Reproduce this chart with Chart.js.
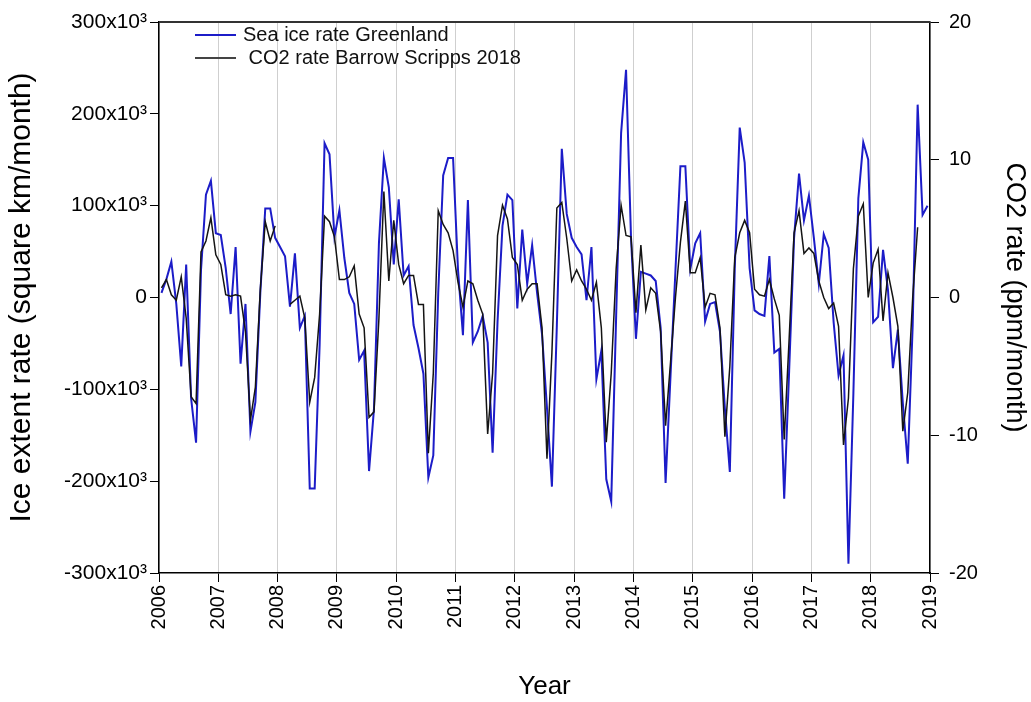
<!DOCTYPE html>
<html>
<head>
<meta charset="utf-8">
<script src="https://cdn.jsdelivr.net/npm/chart.js@4.4.1/dist/chart.umd.min.js"></script>
<style>
  html, body { margin: 0; padding: 0; background: #fff; }
  #wrap { width: 1031px; height: 702px; }
</style>
</head>
<body>
<div id="wrap"><canvas id="chart" width="1031" height="702"></canvas></div>
<script>
// monthly values, Jan 2006 .. Dec 2018 (one row per year)
const FIRST_YEAR = 2006;

// sea ice extent rate Greenland, thousand km2 / month
const seaIceRate = [
  5, 20, 39, -7, -75, 36, -110, -158, 30, 112, 127, 70,        // 2006
  68, 32, -18, 55, -72, -7, -146, -114, 5, 97, 97, 65,         // 2007
  55, 45, -10, 48, -33, -20, -208, -208, -52, 168, 156, 66,    // 2008
  95, 43, 5, -7, -68, -58, -189, -121, 59, 152, 120, 36,       // 2009
  107, 24, 34, -30, -55, -83, -196, -172, 5, 133, 152, 152,    // 2010
  30, -41, 106, -49, -37, -20, -49, -169, -26, 78, 112, 106,   // 2011
  -12, 74, 15, 57, 5, -40, -120, -206, -30, 162, 91, 65,       // 2012
  55, 47, -3, 55, -89, -58, -198, -222, -20, 179, 248, 66,     // 2013
  -45, 28, 26, 24, 18, -33, -202, -85, 30, 143, 143, 31,       // 2014
  59, 70, -26, -7, -5, -37, -121, -190, 32, 185, 147, 32,      // 2015
  -14, -18, -20, 45, -60, -56, -219, -80, 65, 135, 84, 111,    // 2016
  65, 15, 69, 54, -27, -85, -63, -290, -104, 108, 169, 150,    // 2017
  -27, -21, 52, 8, -77, -35, -115, -181, -30, 210, 90, 100     // 2018
];

// CO2 rate Barrow (Scripps 2018), ppm / month, null = no data
const co2Rate = [
  0.7, 1.3, 0.2, -0.2, 1.5, -1.5, -7.2, -7.7, 3.3, 4.1, 5.8, 3.1,      // 2006
  2.4, 0.2, 0.1, 0.2, 0.1, -2.5, -8.9, -6.5, 0.6, 5.5, 4.1, 5.2,       // 2007
  null, null, -0.5, -0.2, 0.1, -1.5, -7.6, -5.8, -1.2, 5.9, 5.5, 4.4,  // 2008
  1.3, 1.3, 1.5, 2.3, -1.2, -2.2, -8.7, -8.3, -1.5, 7.7, 1.2, 5.6,     // 2009
  2.4, 1.0, 1.6, 1.6, -0.5, -0.5, -11.3, -5.5, 6.3, 5.3, 4.7, 3.4,     // 2010
  1.1, -0.7, 1.2, 1.0, -0.2, -1.2, -9.9, -5.5, 4.5, 6.7, 5.7, 2.9,     // 2011
  2.4, -0.2, 0.6, 1.0, 1.0, -2.2, -11.7, -4.0, 6.5, 6.9, 4.3, 1.2,     // 2012
  2.0, 1.2, 0.6, -0.2, 1.1, -2.2, -10.5, -5.5, 2.1, 6.7, 4.5, 4.4,     // 2013
  -1.1, 3.8, -0.9, 0.7, 0.3, -2.5, -9.3, -4.7, 0.0, 4.0, 7.0, 1.8,     // 2014
  1.8, 2.9, -0.7, 0.3, 0.2, -2.2, -10.1, -5.0, 2.9, 4.7, 5.6, 4.7,     // 2015
  0.6, 0.2, 0.1, 1.3, -0.1, -1.3, -10.3, -3.0, 4.7, 6.3, 3.2, 3.6,     // 2016
  3.2, 1.2, 0.0, -0.8, -0.4, -2.1, -10.7, -7.3, 2.1, 5.9, 6.8, 0.0,    // 2017
  2.5, 3.5, -1.7, 1.8, 0.0, -2.1, -9.7, -6.9, 0.0, 5.1, null, null     // 2018
];

const yearTicks = [2006, 2007, 2008, 2009, 2010, 2011, 2012, 2013, 2014, 2015, 2016, 2017, 2018, 2019];
const iceTicks = [-300, -200, -100, 0, 100, 200, 300];   // x10^3
const co2Ticks = [-20, -10, 0, 10, 20];

const FONT = "'Liberation Sans', Arial, sans-serif";
const BLUE = '#1c1cc8';
const BLACK = '#141414';

// place each monthly value at mid month
const monthX = i => FIRST_YEAR + (i + 0.5) / 12;

// legend drawn inside the plot, plus the top frame line
const frameAndLegend = {
  id: 'frameAndLegend',
  afterDraw(chart) {
    const { ctx, chartArea: a } = chart;
    ctx.save();
    ctx.strokeStyle = '#333';
    ctx.lineWidth = 2;
    ctx.beginPath();
    ctx.moveTo(a.left, a.top);
    ctx.lineTo(a.right, a.top);
    ctx.stroke();

    const items = [
      { text: 'Sea ice rate Greenland', color: BLUE },
      { text: ' CO2 rate Barrow Scripps 2018', color: '#444' }
    ];
    ctx.font = '20px ' + FONT;
    ctx.textBaseline = 'middle';
    ctx.fillStyle = '#111';
    items.forEach((it, k) => {
      const y = a.top + 13 + k * 23;
      ctx.strokeStyle = it.color;
      ctx.lineWidth = 2;
      ctx.beginPath();
      ctx.moveTo(a.left + 36, y);
      ctx.lineTo(a.left + 77, y);
      ctx.stroke();
      ctx.fillText(it.text, a.left + 84, y);
    });
    ctx.restore();
  }
};

new Chart(document.getElementById('chart'), {
  type: 'line',
  data: {
    datasets: [
      {
        label: 'CO2 rate Barrow Scripps 2018',
        data: co2Rate.map((v, i) => ({ x: monthX(i), y: v })),
        yAxisID: 'yCo2',
        borderColor: BLACK,
        borderWidth: 1.5,
        pointRadius: 0,
        tension: 0,
        spanGaps: false,
        order: 0
      },
      {
        label: 'Sea ice rate Greenland',
        data: seaIceRate.map((v, i) => ({ x: monthX(i), y: v * 1000 })),
        yAxisID: 'yIce',
        borderColor: BLUE,
        borderWidth: 2,
        pointRadius: 0,
        tension: 0,
        order: 1
      }
    ]
  },
  options: {
    responsive: false,
    animation: false,
    layout: { padding: { top: 21, left: 0, right: 0, bottom: 0 } },
    plugins: { legend: { display: false }, tooltip: { enabled: false } },
    scales: {
      x: {
        type: 'linear',
        position: 'bottom',
        min: 2006,
        max: 2019,
        afterBuildTicks: s => { s.ticks = yearTicks.map(v => ({ value: v })); },
        afterFit: s => { s.height = 129; },
        ticks: {
          autoSkip: false,
          minRotation: 90,
          maxRotation: 90,
          padding: 3,
          color: '#000',
          font: { family: FONT, size: 20 },
          callback: v => String(v)
        },
        grid: { color: '#cfcfcf', lineWidth: 1, tickColor: '#000', tickLength: 9 },
        border: { color: '#000', width: 1.5 },
        title: { display: true, text: 'Year', color: '#000', font: { family: FONT, size: 26 }, padding: { top: 0, bottom: 0 } }
      },
      yIce: {
        type: 'linear',
        position: 'left',
        min: -300000,
        max: 300000,
        afterBuildTicks: s => { s.ticks = iceTicks.map(v => ({ value: v * 1000 })); },
        afterFit: s => { s.width = 159; },
        ticks: {
          padding: 3,
          color: '#000',
          font: { family: FONT, size: 21 },
          callback: v => (v === 0 ? '0' : (v / 1000) + 'x10\u00B3')
        },
        grid: { drawOnChartArea: false, tickColor: '#000', tickLength: 9 },
        border: { color: '#000', width: 1.5 },
        title: { display: true, text: 'Ice extent rate (square km/month)', color: '#000', font: { family: FONT, size: 30 }, padding: { top: 4, bottom: 0 } }
      },
      yCo2: {
        type: 'linear',
        position: 'right',
        min: -20,
        max: 20,
        afterBuildTicks: s => { s.ticks = co2Ticks.map(v => ({ value: v })); },
        afterFit: s => { s.width = 101; },
        ticks: {
          padding: 10,
          color: '#000',
          font: { family: FONT, size: 20 },
          callback: v => String(v)
        },
        grid: { drawOnChartArea: false, tickColor: '#000', tickLength: 9 },
        border: { color: '#000', width: 1.5 },
        title: { display: true, text: 'CO2 rate (ppm/month)', color: '#000', font: { family: FONT, size: 27 }, padding: { top: 0, bottom: 0 } }
      }
    }
  },
  plugins: [frameAndLegend]
});
</script>
</body>
</html>
